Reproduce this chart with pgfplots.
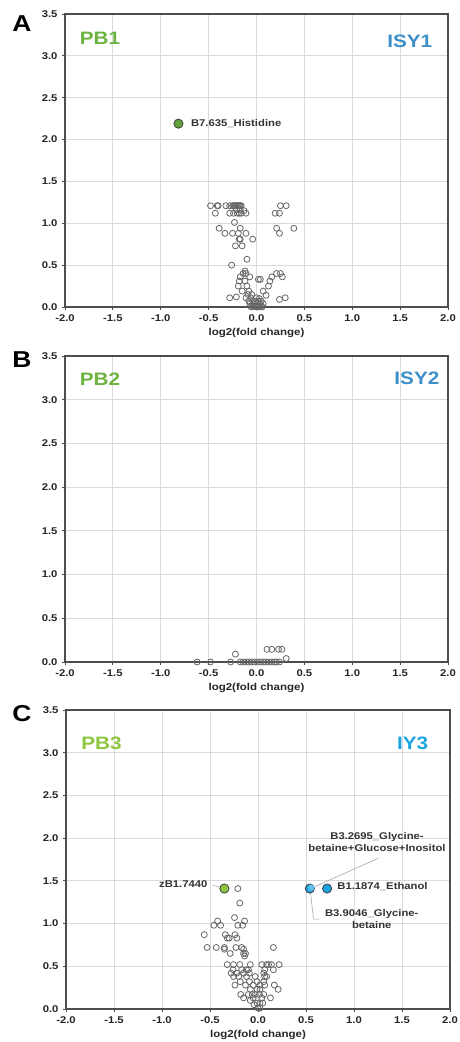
\documentclass[border=0pt]{standalone}
\usepackage{fontspec}
\setmainfont{Liberation Sans}[FakeStretch=1.15]
\usepackage{pgfplots}
\pgfplotsset{compat=1.18}

\definecolor{gridgray}{HTML}{DADADA}
\definecolor{framegray}{HTML}{4D4D4D}
\definecolor{ptgray}{HTML}{666666}
\definecolor{pbgreen}{HTML}{6DB33F}
\definecolor{pbgreenlt}{HTML}{8DC63F}
\definecolor{isyblue}{HTML}{3D8FC9}
\definecolor{iycyan}{HTML}{1BA3E0}

\tikzset{
  lab/.style={font=\bfseries\fontsize{9.8}{12}\selectfont, text=black!80},
  grp/.style={font=\bfseries\fontsize{18}{18}\selectfont, text=#1},
  panel/.style={font=\bfseries\fontsize{23}{23}\selectfont},
}

\pgfplotsset{
  volc/.style={
    anchor=south west, scale only axis,
    xmin=-2, xmax=2, ymin=0, ymax=3.5,
    xtick distance=0.5, ytick distance=0.5,
    grid=major, major grid style={gridgray, line width=0.8pt},
    axis line style={framegray, line width=1.2pt},
    tick style={framegray, line width=0.8pt},
    tick align=outside, major tick length=3pt,
    xtick pos=bottom, ytick pos=left,
    /pgf/number format/assume math mode=true,
    /pgf/number format/.cd, fixed, fixed zerofill, precision=1, /pgfplots/.cd,
    tick label style={font=\bfseries\fontsize{9.8}{10}\selectfont, text=black!85},
    xticklabel style={yshift=-1pt},
    yticklabel style={xshift=-1pt},
    xlabel={log2(fold change)},
    xlabel style={font=\bfseries\fontsize{10}{11}\selectfont, text=black!85,
      at={(axis description cs:0.5,0)}, anchor=center, yshift=-26pt},
    clip=false,
  },
  grey/.style={only marks, mark=o, mark size=3pt,
    mark options={draw=ptgray, line width=0.8pt}},
  hit/.style={only marks, mark=*, mark size=4.6pt,
    mark options={draw=black!75, line width=0.8pt, fill=#1}},
}

\begin{document}
\begin{tikzpicture}[x=1pt,y=1pt]
\useasboundingbox (0,0) rectangle (459,1042);

% ---------- A ----------
\node[panel] at (22,1018) {A};
\begin{axis}[volc, at={(65pt,735pt)}, width=383pt, height=293pt]
\addplot[grey] coordinates {
 (-0.48,1.21) (-0.41,1.21) (-0.40,1.21) (-0.32,1.21) (-0.28,1.21) (-0.25,1.21)
 (-0.24,1.21) (-0.23,1.21) (-0.22,1.21) (-0.21,1.21) (-0.20,1.21) (-0.19,1.21)
 (-0.18,1.21) (-0.17,1.21) (-0.16,1.21) (0.25,1.21) (0.31,1.21)
 (-0.43,1.12) (-0.28,1.12) (-0.24,1.12) (-0.20,1.12) (-0.18,1.12) (-0.16,1.12)
 (-0.11,1.12) (0.195,1.12) (0.24,1.12)
 (-0.21,1.16) (-0.17,1.16) (-0.13,1.15)
 (-0.23,1.01)
 (-0.39,0.94) (-0.17,0.94) (0.21,0.94) (0.39,0.94)
 (-0.33,0.88) (-0.25,0.88) (-0.19,0.88) (-0.11,0.88) (0.24,0.88)
 (-0.18,0.81) (-0.17,0.81) (-0.04,0.81)
 (-0.22,0.73) (-0.15,0.73)
 (-0.10,0.57) (-0.26,0.50) (-0.12,0.43)
 (-0.14,0.40) (-0.11,0.40) (0.21,0.40) (0.25,0.40)
 (-0.17,0.36) (-0.07,0.36) (0.02,0.33) (0.04,0.33) (0.16,0.36) (0.27,0.36)
 (-0.18,0.31) (-0.12,0.31) (0.14,0.31)
 (-0.19,0.25) (-0.10,0.25) (0.125,0.25)
 (-0.15,0.19) (-0.08,0.19) (0.07,0.19)
 (-0.09,0.15) (-0.05,0.15) (0.10,0.14)
 (-0.28,0.11) (-0.21,0.12) (-0.11,0.11) (-0.06,0.11) (0.00,0.11) (0.03,0.10)
 (0.24,0.09) (0.30,0.11)
 (-0.08,0.07) (-0.04,0.07) (-0.01,0.07) (0.02,0.07) (0.05,0.07)
 (-0.07,0.04) (-0.03,0.04) (0.00,0.04) (0.04,0.04) (0.07,0.04)
 (-0.06,0.01) (-0.03,0.01) (-0.01,0.01) (0.01,0.01) (0.03,0.01) (0.05,0.01)
 (-0.05,0.00) (0.00,0.00) (0.02,0.00) (0.06,0.00)
};
\addplot[hit=pbgreen!90!black] coordinates {(-0.815,2.19)};
\node[lab, anchor=west] at (axis cs:-0.72,2.19) {B7.635\_Histidine};
\node[grp=pbgreen] at (axis cs:-1.634,3.21) {PB1};
\node[grp=isyblue] at (axis cs:1.60,3.17) {ISY1};
\end{axis}

% ---------- B ----------
\node[panel] at (22,682) {B};
\begin{axis}[volc, at={(65pt,380pt)}, width=383pt, height=306pt]
\addplot[grey] coordinates {
 (0.11,0.145) (0.16,0.145) (0.23,0.145) (0.265,0.145) (-0.22,0.09) (0.31,0.04)
 (-0.62,0) (-0.48,0) (-0.27,0) (-0.17,0) (-0.14,0) (-0.11,0) (-0.08,0)
 (-0.05,0) (-0.02,0) (0.01,0) (0.04,0) (0.07,0) (0.10,0) (0.13,0) (0.16,0)
 (0.19,0) (0.21,0) (0.24,0)
};
\node[grp=pbgreen] at (axis cs:-1.634,3.24) {PB2};
\node[grp=isyblue] at (axis cs:1.675,3.24) {ISY2};
\end{axis}

% ---------- C ----------
\node[panel] at (22,328) {C};
\begin{axis}[volc, at={(66pt,33pt)}, width=384pt, height=299pt]
\addplot[grey] coordinates {
 (-0.21,1.41) (-0.19,1.24) (-0.245,1.07) (-0.42,1.03) (-0.14,1.03)
 (-0.46,0.98) (-0.39,0.98) (-0.21,0.98) (-0.16,0.98)
 (-0.56,0.87) (-0.34,0.87) (-0.24,0.87)
 (-0.32,0.83) (-0.30,0.83) (-0.22,0.83)
 (-0.53,0.72) (-0.435,0.72) (-0.35,0.72) (-0.23,0.72) (-0.17,0.72) (0.16,0.72)
 (-0.35,0.70) (-0.15,0.70)
 (-0.29,0.65) (-0.15,0.65) (-0.13,0.65) (-0.14,0.62)
 (-0.32,0.52) (-0.255,0.52) (-0.19,0.52) (-0.08,0.52) (0.04,0.52) (0.09,0.52)
 (0.11,0.52) (0.14,0.52) (0.22,0.52)
 (-0.26,0.46) (-0.17,0.46) (-0.12,0.46) (-0.10,0.46) (0.07,0.46) (0.16,0.46)
 (-0.28,0.42) (-0.22,0.42) (-0.15,0.42) (-0.09,0.42) (0.06,0.42)
 (-0.255,0.38) (-0.20,0.38) (-0.12,0.38) (-0.03,0.38) (0.07,0.38) (0.09,0.38)
 (-0.185,0.32) (-0.09,0.32) (-0.01,0.32) (0.06,0.32)
 (-0.24,0.28) (-0.13,0.28) (-0.05,0.28) (0.02,0.28) (0.07,0.28) (0.17,0.28)
 (-0.08,0.23) (-0.01,0.23) (0.02,0.23) (0.21,0.23)
 (-0.18,0.17) (-0.10,0.17) (-0.06,0.17) (-0.03,0.17) (0.015,0.17) (0.06,0.17)
 (-0.15,0.13) (-0.05,0.13) (0.04,0.13) (0.13,0.13)
 (-0.08,0.10) (-0.01,0.07) (0.02,0.07) (0.05,0.07) (-0.04,0.05)
 (0.00,0.01) (0.02,0.01)
};
\addplot[hit=pbgreenlt] coordinates {(-0.35,1.41)};
\addplot[hit=iycyan] coordinates {(0.54,1.41) (0.72,1.41)};
\addplot[only marks, mark=*, mark size=3pt, mark options={draw=iycyan!70!white, fill=iycyan!70!white}] coordinates {(0.555,1.42)};
\draw[gray!70, line width=0.6pt] (axis cs:-0.47,1.445) -- (axis cs:-0.40,1.43);
\node[lab, anchor=east] at (axis cs:-0.49,1.46) {zB1.7440};
\draw[gray!70, line width=0.6pt] (axis cs:1.255,1.765) -- (axis cs:0.595,1.434);
\node[lab, align=center] at (axis cs:1.24,1.96) {B3.2695\_Glycine-\\betaine+Glucose+Inositol};
\node[lab, anchor=west] at (axis cs:0.79,1.434) {B1.1874\_Ethanol};
\draw[gray!70, line width=0.6pt] (axis cs:0.545,1.39) -- (axis cs:0.578,1.052) -- (axis cs:0.64,1.052);
\node[lab, align=center] at (axis cs:1.185,1.05) {B3.9046\_Glycine-\\betaine};
\node[grp=pbgreenlt] at (axis cs:-1.63,3.11) {PB3};
\node[grp=iycyan] at (axis cs:1.61,3.11) {IY3};
\end{axis}
\end{tikzpicture}
\end{document}
